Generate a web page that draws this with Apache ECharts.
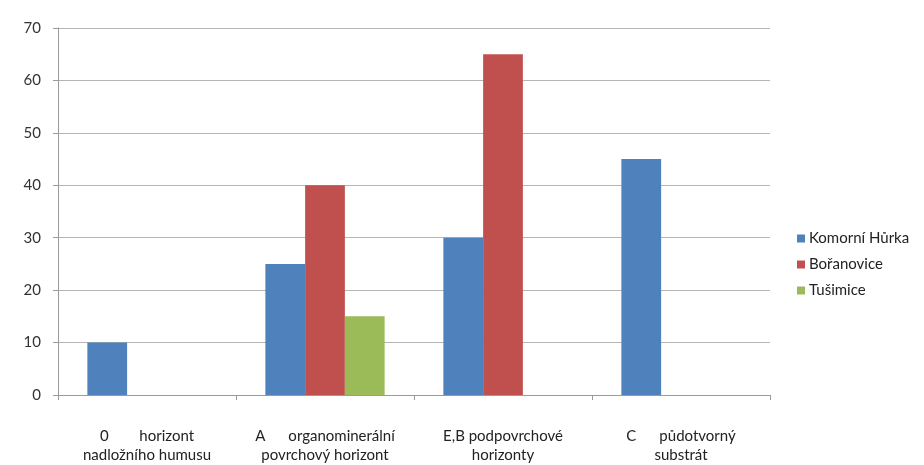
<!DOCTYPE html>
<html>
<head>
<meta charset="utf-8">
<script src="https://cdn.jsdelivr.net/npm/echarts@6/dist/echarts.min.js"></script>
<style>html,body{margin:0;padding:0;background:#fff}#c{width:924px;height:465px}</style>
</head>
<body>
<div id="c"></div>
<script>
const categories = [
  "0        horizont\nnadložního humusu",
  "A      organominerální\npovrchový horizont",
  "E,B podpovrchové\nhorizonty",
  "C      půdotvorný\nsubstrát"
];
const seriesNames = ["Komorní Hůrka", "Bořanovice", "Tušimice"];
const komorniHurka = [10, 25, 30, 45];
const boranovice = [0, 40, 65, 0];
const tusimice = [0, 15, 0, 0];
const colors = ["#4F81BD", "#C0504D", "#9BBB59"];
const FONT = "Lato";

const chart = echarts.init(document.getElementById('c'), null, {renderer: 'canvas'});
chart.setOption({
  animation: false,
  textStyle: {fontFamily: FONT},
  grid: {left: 58, right: 154, top: 28, bottom: 68, containLabel: false},
  legend: {
    orient: 'vertical',
    left: 792,
    top: 226,
    itemWidth: 8,
    itemHeight: 8,
    itemGap: 11,
    icon: 'rect',
    data: seriesNames,
    textStyle: {fontFamily: FONT, fontSize: 15, color: '#222', padding: [0, 0, 0, -1]}
  },
  xAxis: {
    type: 'category',
    data: categories,
    axisLine: {lineStyle: {color: '#9a9a9a', width: 1}},
    axisTick: {show: true, length: 5, alignWithLabel: false, lineStyle: {color: '#9a9a9a'}},
    axisLabel: {fontFamily: FONT, fontSize: 15, color: '#222', margin: 32, lineHeight: 19, interval: 0}
  },
  yAxis: {
    type: 'value',
    min: 0, max: 70, interval: 10,
    axisLine: {show: true, lineStyle: {color: '#9a9a9a', width: 1}},
    axisTick: {show: true, length: 5, lineStyle: {color: '#9a9a9a'}},
    axisLabel: {fontFamily: FONT, fontSize: 15, color: '#333', margin: 17},
    splitLine: {lineStyle: {color: '#b5b5b5', width: 1}}
  },
  series: [
    {name: seriesNames[0], type: 'bar', data: komorniHurka, itemStyle: {color: colors[0]}, barGap: '0%', barCategoryGap: '33%'},
    {name: seriesNames[1], type: 'bar', data: boranovice, itemStyle: {color: colors[1]}, barGap: '0%', barCategoryGap: '33%'},
    {name: seriesNames[2], type: 'bar', data: tusimice, itemStyle: {color: colors[2]}, barGap: '0%', barCategoryGap: '33%'}
  ]
});
</script>
</body>
</html>
